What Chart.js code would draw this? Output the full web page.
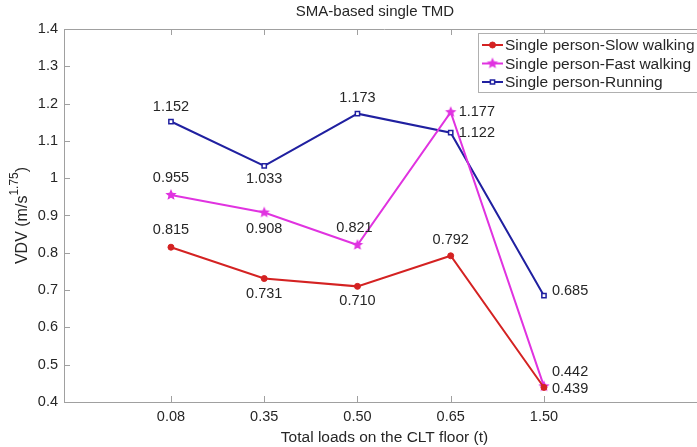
<!DOCTYPE html>
<html lang="en">
<head>
  <meta charset="UTF-8">
  <title>SMA-based single TMD</title>
  <script src="https://cdn.jsdelivr.net/npm/chart.js"></script>
  <style>
    html, body { margin: 0; padding: 0; background: #fff; overflow: hidden; }
    /* plot box runs past the right edge of the window */
    #wrap { width: 712px; height: 447px; }
  </style>
</head>
<body>
  <div id="wrap"><canvas id="vdvChart"></canvas></div>

  <script>
    // Loads on the floor (category labels) and VDV per walking case
    const loadLabels = ['0.08', '0.35', '0.50', '0.65', '1.50'];
    const slowWalking = [0.815, 0.731, 0.710, 0.792, 0.439];
    const fastWalking = [0.955, 0.908, 0.821, 1.177, 0.442];
    const running = [1.152, 1.033, 1.173, 1.122, 0.685];
    const yTicks = [0.4, 0.5, 0.6, 0.7, 0.8, 0.9, 1.0, 1.1, 1.2, 1.3, 1.4];

    // where each value label sits relative to its point [dx, dy, align]
    const labelOffsets = [
      [[0, -17, 'center'], [0, 15, 'center'], [0, 15, 'center'], [0, -16, 'center'], [8, 2, 'left']],
      [[0, -17, 'center'], [0, 16, 'center'], [-3, -17, 'center'], [8, 0, 'left'], [8, -14, 'left']],
      [[0, -15, 'center'], [0, 13, 'center'], [0, -16, 'center'], [8, 0, 'left'], [8, -5, 'left']]
    ];

    const FONT = '"Liberation Sans", Arial, Helvetica, sans-serif';
    const TEXT = '#262626';
    const AXIS = '#a0a0a0';
    const RED = '#d42222', MAGENTA = '#e033e0', BLUE = '#2020a0';

    const toXY = vals => vals.map((v, i) => ({ x: i, y: v }));

    // filled five-point star used as the fast walking marker
    function makeStar(color, r) {
      const c = document.createElement('canvas');
      const s = Math.ceil(r * 2 + 2);
      c.width = s; c.height = s;
      const g = c.getContext('2d');
      g.fillStyle = color;
      g.beginPath();
      for (let k = 0; k < 10; k++) {
        const rad = k % 2 === 0 ? r : r * 0.45;
        const ang = -Math.PI / 2 + k * Math.PI / 5;
        const px = s / 2 + rad * Math.cos(ang), py = s / 2 + rad * Math.sin(ang);
        k === 0 ? g.moveTo(px, py) : g.lineTo(px, py);
      }
      g.closePath();
      g.fill();
      return c;
    }
    const starMarker = makeStar(MAGENTA, 6);

    // value labels next to each point
    const valueLabels = {
      id: 'valueLabels',
      afterDatasetsDraw(chart) {
        const ctx = chart.ctx;
        ctx.save();
        ctx.font = '14.5px ' + FONT;
        ctx.fillStyle = TEXT;
        ctx.textBaseline = 'middle';
        chart.data.datasets.forEach((ds, di) => {
          chart.getDatasetMeta(di).data.forEach((pt, i) => {
            const [dx, dy, align] = labelOffsets[di][i];
            ctx.textAlign = align;
            ctx.fillText(ds.data[i].y.toFixed(3), pt.x + dx, pt.y + dy);
          });
        });
        ctx.restore();
      }
    };

    // box top edge, inward ticks, title, legend and y title with superscript
    const frame = {
      id: 'frame',
      afterDraw(chart) {
        const ctx = chart.ctx;
        const a = chart.chartArea;
        const xs = chart.scales.x, ys = chart.scales.y;
        ctx.save();
        ctx.strokeStyle = AXIS;
        ctx.lineWidth = 1;
        ctx.beginPath();
        ctx.moveTo(a.left, a.top + 0.5);
        ctx.lineTo(a.right, a.top + 0.5);
        xs.ticks.forEach(t => {
          const px = Math.round(xs.getPixelForValue(t.value)) + 0.5;
          ctx.moveTo(px, a.bottom); ctx.lineTo(px, a.bottom - 6);
          ctx.moveTo(px, a.top); ctx.lineTo(px, a.top + 6);
        });
        ys.ticks.forEach(t => {
          const py = Math.round(ys.getPixelForValue(t.value)) + 0.5;
          ctx.moveTo(a.left, py); ctx.lineTo(a.left + 6, py);
        });
        ctx.stroke();

        // title
        ctx.fillStyle = TEXT;
        ctx.font = '15px ' + FONT;
        ctx.textAlign = 'center';
        ctx.textBaseline = 'middle';
        ctx.fillText('SMA-based single TMD', 375, 12);

        // legend box
        const lx = 478, ly = 33;
        ctx.fillStyle = '#fff';
        ctx.fillRect(lx, ly, a.right - lx, 59);
        ctx.strokeStyle = '#b0b0b0';
        ctx.strokeRect(lx + 0.5, ly + 0.5, a.right - lx, 59);
        ctx.font = '15.5px ' + FONT;
        ctx.textAlign = 'left';
        chart.data.datasets.forEach((ds, di) => {
          const ry = 45 + di * 18.5;
          ctx.strokeStyle = ds.borderColor;
          ctx.lineWidth = 2;
          ctx.beginPath();
          ctx.moveTo(482, ry); ctx.lineTo(503, ry);
          ctx.stroke();
          ctx.fillStyle = ds.pointBackgroundColor;
          ctx.strokeStyle = ds.borderColor;
          ctx.lineWidth = ds.pointBorderWidth;
          Chart.helpers.drawPoint(ctx, { pointStyle: ds.pointStyle, radius: ds.pointRadius, borderWidth: ds.pointBorderWidth }, 492.5, ry);
          ctx.fillStyle = TEXT;
          ctx.fillText(ds.label, 505, ry + 1);
        });

        // y axis title
        ctx.translate(23, (a.top + a.bottom) / 2);
        ctx.rotate(-Math.PI / 2);
        ctx.fillStyle = TEXT;
        ctx.textAlign = 'left';
        ctx.textBaseline = 'middle';
        const main = '16px ' + FONT, sup = '12px ' + FONT;
        ctx.font = main;
        const w1 = ctx.measureText('VDV (m/s').width;
        const w3 = ctx.measureText(')').width;
        ctx.font = sup;
        const w2 = ctx.measureText('1.75').width;
        const x0 = -(w1 + w2 + w3) / 2;
        ctx.font = main;
        ctx.fillText('VDV (m/s', x0, 0);
        ctx.font = sup;
        ctx.fillText('1.75', x0 + w1, -8);
        ctx.font = main;
        ctx.fillText(')', x0 + w1 + w2, 0);
        ctx.restore();
      }
    };

    new Chart(document.getElementById('vdvChart'), {
      type: 'line',
      data: {
        datasets: [{
          label: 'Single person-Slow walking',
          data: toXY(slowWalking),
          borderColor: RED,
          backgroundColor: RED,
          pointBackgroundColor: RED,
          pointStyle: 'circle',
          pointRadius: 3,
          pointBorderWidth: 1,
          borderWidth: 2,
          tension: 0
        }, {
          label: 'Single person-Fast walking',
          data: toXY(fastWalking),
          borderColor: MAGENTA,
          backgroundColor: MAGENTA,
          pointBackgroundColor: MAGENTA,
          pointStyle: starMarker,
          pointRadius: 6,
          pointBorderWidth: 1,
          borderWidth: 2,
          tension: 0
        }, {
          label: 'Single person-Running',
          data: toXY(running),
          borderColor: BLUE,
          backgroundColor: BLUE,
          pointBackgroundColor: '#ffffff',
          pointStyle: 'rect',
          pointRadius: 3,
          pointBorderWidth: 1.5,
          borderWidth: 2,
          tension: 0
        }]
      },
      options: {
        responsive: true,
        maintainAspectRatio: false,
        animation: false,
        layout: { padding: { left: 0, right: 0, top: 29, bottom: 0 } },
        plugins: {
          legend: { display: false },
          tooltip: { enabled: false },
          title: { display: false }
        },
        scales: {
          x: {
            type: 'linear',
            min: -1.147,
            max: 5.727,
            afterBuildTicks: s => { s.ticks = loadLabels.map((_, i) => ({ value: i })); },
            afterFit: s => { s.height = 45; },
            grid: { display: false, drawTicks: false },
            border: { display: true, color: AXIS },
            ticks: {
              color: TEXT,
              font: { family: FONT, size: 14.5 },
              padding: 6,
              autoSkip: false,
              maxRotation: 0,
              callback: v => loadLabels[v]
            },
            title: {
              display: true,
              text: 'Total loads on the CLT floor (t)',
              color: TEXT,
              font: { family: FONT, size: 15.5 },
              padding: { top: 0, bottom: 0 }
            }
          },
          y: {
            min: 0.4,
            max: 1.4,
            afterBuildTicks: s => { s.ticks = yTicks.map(v => ({ value: v })); },
            afterFit: s => { s.width = 64; },
            grid: { display: false, drawTicks: false },
            border: { display: true, color: AXIS },
            ticks: {
              color: TEXT,
              font: { family: FONT, size: 14.5 },
              padding: 6,
              callback: v => String(Number(v.toFixed(1)))
            }
          }
        }
      },
      plugins: [valueLabels, frame]
    });
  </script>
</body>
</html>
